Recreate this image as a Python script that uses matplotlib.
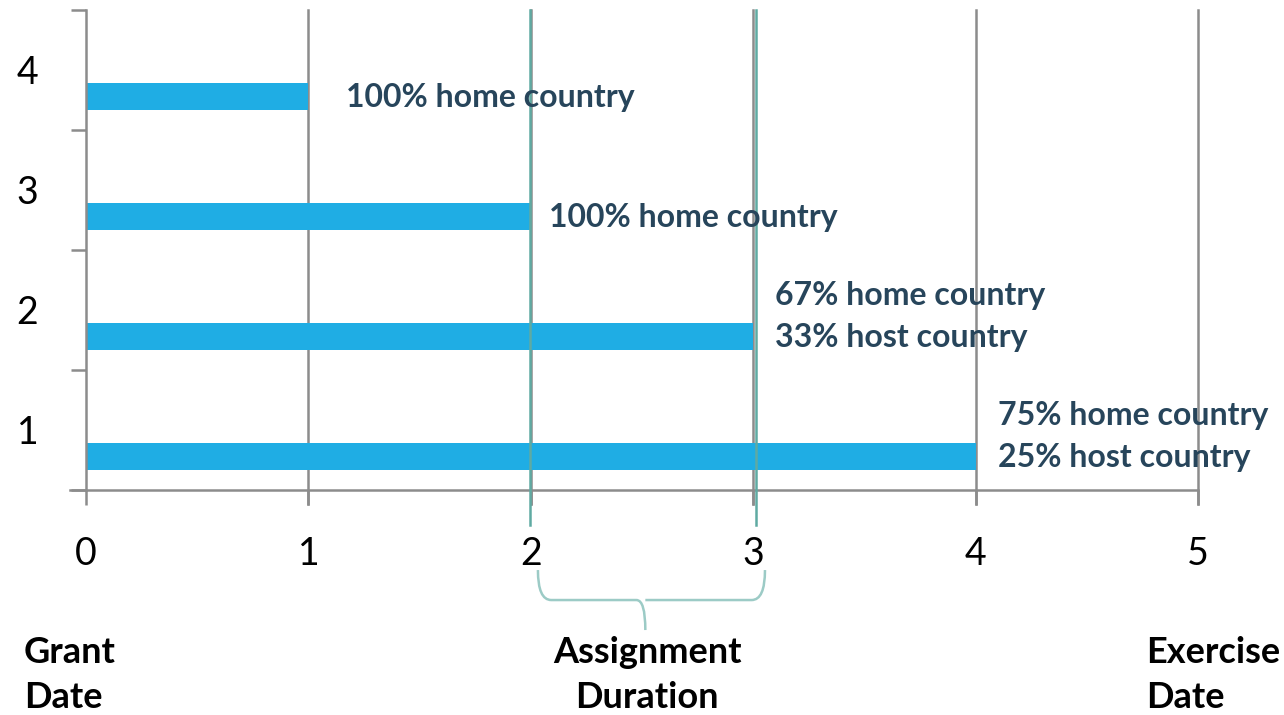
import matplotlib.pyplot as plt
from matplotlib.path import Path
from matplotlib.patches import PathPatch

plt.rcParams['font.family'] = ['Lato', 'DejaVu Sans']

# vesting tranches: tranche number and years from grant
tranches = [1, 2, 3, 4]
years = [4, 3, 2, 1]
notes = [['75% home country', '25% host country'],
         ['67% home country', '33% host country'],
         ['100% home country'],
         ['100% home country']]
assignment = [2, 3]
x_ticks = [0, 1, 2, 3, 4, 5]

bar_color = '#1FADE4'
text_color = '#27455B'
grid_color = '#8C8C8C'
teal = '#5FAAA2'

fig = plt.figure(figsize=(12.84, 7.15), dpi=100)
ax = fig.add_axes([86 / 1284, 225 / 715, 1112 / 1284, 480 / 715])
ax.set_xlim(0, 5)
ax.set_ylim(0.5, 4.5)

offset = -0.22
ax.barh([t + offset for t in tranches], years, height=0.225,
        color=bar_color, zorder=2)

# labels next to bar ends
pads = [0.1, 0.1, 0.08, 0.17]
for t, y, lines, pad in zip(tranches, years, notes, pads):
    yb = t + offset
    if len(lines) == 1:
        ax.text(y + pad, yb - 0.005, lines[0], va='center', ha='left',
                fontsize=23, fontweight='bold', color=text_color, zorder=4)
    else:
        ax.text(y + pad, yb + 0.345, lines[0], va='center', ha='left',
                fontsize=23, fontweight='bold', color=text_color, zorder=4)
        ax.text(y + pad, yb - 0.005, lines[1], va='center', ha='left',
                fontsize=23, fontweight='bold', color=text_color, zorder=4)

# vertical gridlines
for x in x_ticks[1:]:
    ax.plot([x, x], [4.5, 0.38], color=grid_color, lw=1.8,
            clip_on=False, zorder=1)

# assignment duration markers
for x, dx in zip(assignment, [-0.005, 0.012]):
    ax.plot([x + dx, x + dx], [4.5, 0.21], color=teal, lw=1.8,
            clip_on=False, zorder=3)

# curly bracket under 2..3
x0, x1 = 2.032, 3.053
xm = 2.515
ya, yb, yt = -0.167, -0.417, -0.667
verts = [(x0, ya), (x0, yb), (x0 + 0.06, yb), (xm - 0.04, yb),
         (xm, yb), (xm, yt),
         (xm, yb), (xm + 0.04, yb), (x1 - 0.06, yb), (x1, yb), (x1, ya)]
codes = [Path.MOVETO, Path.CURVE3, Path.CURVE3, Path.LINETO,
         Path.CURVE3, Path.CURVE3,
         Path.MOVETO, Path.LINETO, Path.LINETO, Path.CURVE3, Path.CURVE3]
ax.add_patch(PathPatch(Path(verts, codes), fill=False, edgecolor='#9CCBC6',
                       lw=1.8, clip_on=False))

# axes styling
for side in ['top', 'right']:
    ax.spines[side].set_visible(False)
for side in ['left', 'bottom']:
    ax.spines[side].set_color(grid_color)
    ax.spines[side].set_linewidth(1.8)
ax.spines['bottom'].set_bounds(-0.07, 5)

ax.set_xticks(x_ticks)
ax.set_xticklabels([str(x) for x in x_ticks], fontsize=27)
ax.tick_params(axis='x', length=11, width=1.8, color=grid_color, pad=22)

ax.set_yticks([t + 0.5 for t in [0] + tranches])
ax.set_yticklabels([])
ax.tick_params(axis='y', length=11, width=1.8, color=grid_color)
ax.set_yticks(tranches, minor=True)
ax.set_yticklabels([str(t) for t in tranches], minor=True, fontsize=27)
ax.tick_params(axis='y', which='minor', length=0, pad=50)
for lab in ax.get_yticklabels(minor=True):
    lab.set_horizontalalignment('left')

# captions under the axis
for xp, ha, txt in [(24, 'left', 'Grant\nDate'),
                    (647, 'center', 'Assignment\nDuration'),
                    (1146, 'left', 'Exercise\nDate')]:
    fig.text(xp / 1284, 1 - 675 / 715, txt, ha=ha, va='center',
             fontsize=26, fontweight='bold', linespacing=1.45)

fig.savefig('out.png', dpi=100)
